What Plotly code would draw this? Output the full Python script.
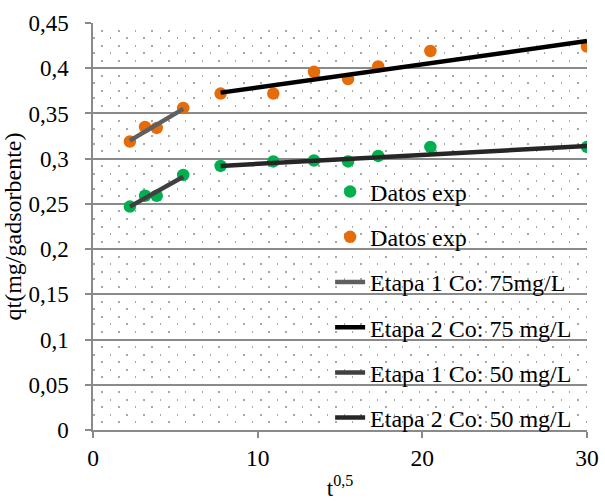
import plotly.graph_objects as go

# ---- data ----
t_sqrt = [2.24, 3.16, 3.87, 5.48, 7.75, 10.95, 13.42, 15.49, 17.32, 20.49, 30.0]
qt_50 = [0.247, 0.259, 0.259, 0.282, 0.292, 0.297, 0.298, 0.297, 0.303, 0.313, 0.313]
qt_75 = [0.319, 0.335, 0.334, 0.356, 0.372, 0.372, 0.396, 0.388, 0.402, 0.419, 0.424]

etapa1_x = [2.24, 5.48]
etapa2_x = [7.75, 30.0]
etapa1_75 = [0.320, 0.355]
etapa2_75 = [0.373, 0.430]
etapa1_50 = [0.247, 0.280]
etapa2_50 = [0.292, 0.314]

x_ticks = [0, 10, 20, 30]
y_ticks = [0, 0.05, 0.1, 0.15, 0.2, 0.25, 0.3, 0.35, 0.4, 0.45]
y_labels = ["0", "0,05", "0,1", "0,15", "0,2", "0,25", "0,3", "0,35", "0,4", "0,45"]

FONT = "Liberation Serif"
GRID = "#8a8a8a"
DOT = "#a8a8a8"

fig = go.Figure()
fig.add_trace(go.Scatter(x=t_sqrt, y=qt_50, mode="markers", name="Datos exp",
                         legendgroup="a", marker=dict(color="#00B050", size=12.5)))
fig.add_trace(go.Scatter(x=t_sqrt, y=qt_75, mode="markers", name="Datos exp",
                         legendgroup="b", marker=dict(color="#E46C0A", size=12.5)))
fig.add_trace(go.Scatter(x=etapa1_x, y=etapa1_75, mode="lines", name="Etapa 1 Co: 75mg/L",
                         legendgroup="c", yaxis="y2", line=dict(color="#5f5f5f", width=4.5)))
fig.add_trace(go.Scatter(x=etapa2_x, y=etapa2_75, mode="lines", name="Etapa 2 Co: 75 mg/L",
                         legendgroup="d", yaxis="y2", line=dict(color="#000000", width=4.5)))
fig.add_trace(go.Scatter(x=etapa1_x, y=etapa1_50, mode="lines", name="Etapa 1 Co: 50 mg/L",
                         legendgroup="e", yaxis="y2", line=dict(color="#404040", width=4.5)))
fig.add_trace(go.Scatter(x=etapa2_x, y=etapa2_50, mode="lines", name="Etapa 2 Co: 50 mg/L",
                         legendgroup="f", yaxis="y2", line=dict(color="#262626", width=4.5)))

step = 0.05 / 6
fig.update_layout(
    width=605, height=501,
    margin=dict(l=93, r=18, t=23, b=71),
    paper_bgcolor="white", plot_bgcolor="white",
    font=dict(family=FONT, size=23, color="black"),
    showlegend=True,
    legend=dict(x=0.48, y=0.64, xanchor="left", yanchor="top",
                bgcolor="rgba(0,0,0,0)", font=dict(size=24, family=FONT),
                traceorder="grouped", tracegroupgap=11),
    xaxis=dict(range=[0, 30], tickvals=x_ticks, showgrid=False, zeroline=False,
               showline=True, linecolor=GRID, linewidth=1.5, automargin=False,
               ticks="outside", ticklen=6, tickcolor=GRID, tickwidth=1.5,
               tickfont=dict(size=23.5, family=FONT),
               title=dict(text="t<sup>0,5</sup>", font=dict(size=23, family=FONT), standoff=27)),
    yaxis=dict(range=[0, 0.45], tickvals=y_ticks, ticktext=y_labels,
               showgrid=True, gridcolor=GRID, gridwidth=1.5, zeroline=False,
               showline=True, linecolor=GRID, linewidth=1.5, automargin=False,
               ticks="outside", ticklen=6, tickcolor=GRID, tickwidth=1.5,
               tickfont=dict(size=23, family=FONT), ticklabelstandoff=12,
               title=dict(text="qt(mg/gadsorbente)", font=dict(size=24, family=FONT), standoff=6),
               minor=dict(tick0=0, dtick=2 * step, showgrid=True, gridcolor=DOT,
                          gridwidth=1.5, griddash="1.5px,15.2px", ticks="")),
    yaxis2=dict(range=[0, 0.45], overlaying="y", showticklabels=False, automargin=False,
                showgrid=False, zeroline=False, showline=False, ticks="",
                minor=dict(tick0=step, dtick=2 * step, showgrid=True, gridcolor=DOT,
                           gridwidth=1.5, griddash="0px,8.3px,1.5px,6.9px", ticks="")),
)

fig.write_html("out.html")
